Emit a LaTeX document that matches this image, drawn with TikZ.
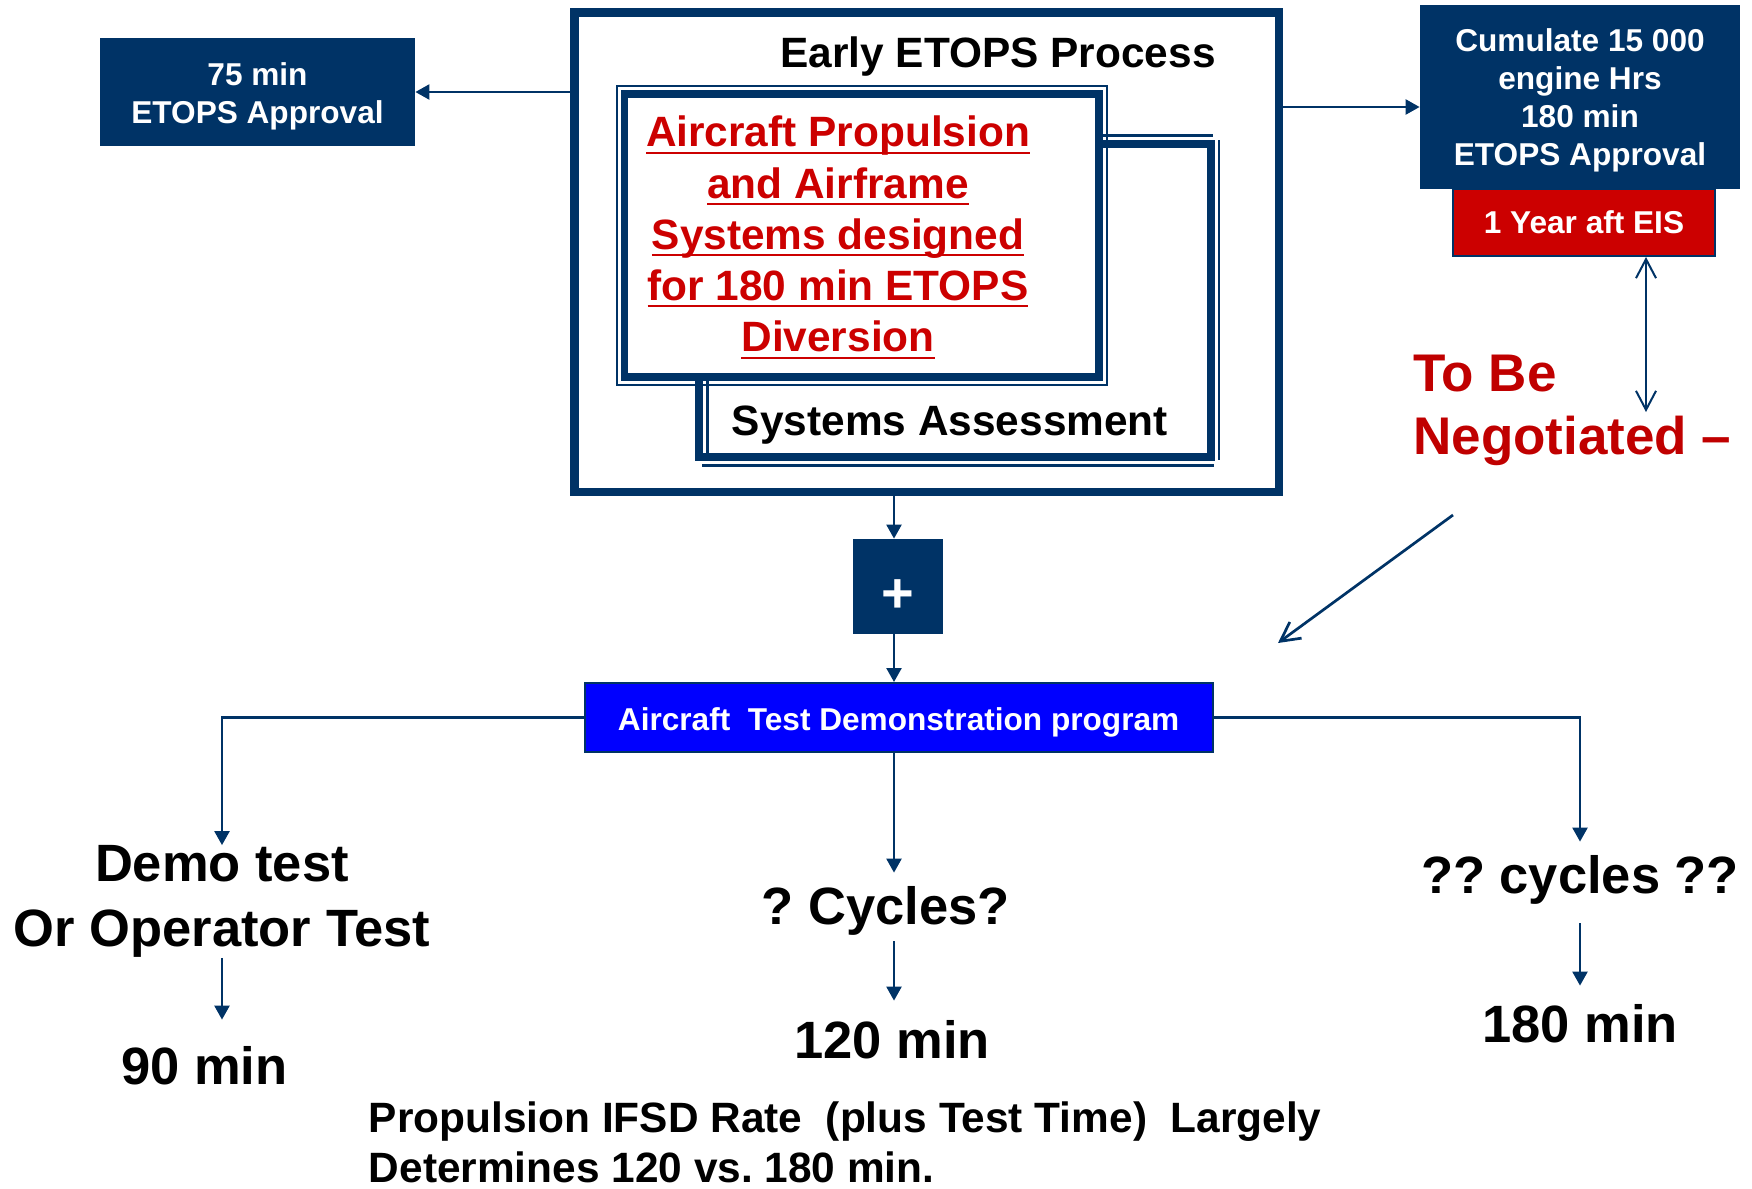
\documentclass[tikz,border=0pt]{standalone}
\usepackage{fontspec}
\setmainfont{Liberation Sans}
\usetikzlibrary{arrows.meta,calc}
\frenchspacing

\definecolor{navy}{RGB}{0,51,102}
\definecolor{alarm}{RGB}{204,0,0}
\definecolor{negred}{RGB}{192,0,0}
\definecolor{progblue}{RGB}{0,0,255}

% underline drawn just below the baseline, crossing the descenders
\newcommand\UnderRed[1]{\setbox0\hbox{#1}\rlap{\rule[-3.5pt]{\wd0}{1pt}}\box0}

\tikzset{
  fS/.style={font=\fontsize{15.8}{19}\selectfont\bfseries},
  fM/.style={font=\fontsize{21.2}{25.6}\selectfont\bfseries},
  fL/.style={font=\fontsize{26.25}{32.5}\selectfont\bfseries},
  fN/.style={font=\fontsize{26.5}{31.5}\selectfont\bfseries},
  fB/.style={font=\fontsize{21.2}{25}\selectfont\bfseries},
  navybox/.style={draw=none, fill=navy, inner sep=0pt},
  lbl/.style={text=white, inner sep=0pt, align=center},
  frame/.style={draw=navy, inner sep=0pt},
  thinrule/.style={draw=navy, line width=1.1pt},
  flow/.style={draw=navy, line width=1.2pt, -{Triangle[length=7pt,width=7.5pt]}},
  barb/.style={draw=navy, line width=1pt,
    {Straight Barb[length=9.5pt,width=10pt]}-{Straight Barb[length=9.5pt,width=10pt]}},
  slant/.style={draw=navy, line width=1.35pt, -{Straight Barb[length=9.5pt,width=10pt]}},
  plain/.style={inner sep=0pt},
}

\begin{document}
\begin{tikzpicture}[x=0.5pt, y=-0.5pt]
\useasboundingbox (0,0) rectangle (1752,1189);

% ---------- Early ETOPS process frame ----------
\node[frame, line width=4.25pt, minimum width=352.25pt, minimum height=239.75pt] (outer) at (926.5,252) {};
\node[fM, plain, anchor=base] (ttl) at (998,67) {Early ETOPS Process};

% systems assessment frame (thick line with offset thin rules)
\node[frame, line width=4pt, minimum width=256pt, minimum height=156.75pt] (sys) at (955,300.25) {};
\draw[thinrule] (1100,135.5) -- (1213,135.5);
\draw[thinrule] (1219,140) -- (1219,460);
\draw[thinrule] (702,465.5) -- (1214,465.5);
\draw[thinrule] (707.5,370) -- (707.5,453);
\node[fM, plain, anchor=base] (sysl) at (950,435) {Systems Assessment};

% design frame on top
\node[frame, fill=white, line width=3.8pt, minimum width=237.25pt, minimum height=141.5pt] (air) at (861.75,235.5) {};
\draw[thinrule] ([shift={(-4,-4)}]air.north west) rectangle ([shift={(4,4)}]air.south east);
\node[fM, plain, text=alarm, align=center] (airt) at (838,237.4)
  {\UnderRed{Aircraft Propulsion}\\\UnderRed{and Airframe}\\\UnderRed{Systems designed}\\\UnderRed{for 180 min ETOPS}\\\UnderRed{Diversion}};

% ---------- approvals ----------
\node[navybox, minimum width=157.5pt, minimum height=54pt] (m75) at (257.5,92) {};
\node[fS, lbl] (m75t) at (257.5,96) {75 min\\ETOPS Approval};

\node[navybox, minimum width=160pt, minimum height=92pt] (cum) at (1580,97) {};
\node[fS, lbl] (cumt) at (1580,100.4) {Cumulate 15 000\\engine Hrs\\180 min\\ETOPS Approval};

\node[fS, fill=alarm, draw=navy, line width=1pt, text=white, inner sep=0pt,
      minimum width=131pt, minimum height=33.5pt] (eis) at (1584,222.5) {1 Year aft EIS};

\draw[flow] (outer.west |- m75.center) -- (m75.east);
\coordinate (cumin) at ([yshift=-5pt]cum.west);
\draw[flow] (outer.east |- cumin) -- (cumin);

% ---------- negotiation ----------
\coordinate (negtop) at (1646,412);
\draw[barb] (eis.south -| negtop) -- (negtop);
\node[fN, plain, text=negred, align=left, anchor=west] (neg) at (1413,410) {To Be\\Negotiated –};
\coordinate (diagA) at (1453,515);
\coordinate (diagB) at (1278,643);
\draw[slant] (diagA) -- (diagB);

% ---------- test programme ----------
\coordinate (spine) at (894,0);
\node[navybox, minimum width=45pt, minimum height=47.5pt] (plus) at (898,586.5) {};
\node[plain, font=\fontsize{28}{28}\selectfont\bfseries, text=white, anchor=base] (plust) at (898,612) {+};
\draw[flow] (spine |- outer.south) -- (spine |- plus.north);

\node[fill=progblue, draw=navy, line width=1pt, inner sep=0pt,
      minimum width=314.25pt, minimum height=34.5pt] (prog) at (898.75,717.5) {};
\node[fS, plain, text=white, anchor=base] (progt) at (898.6,730) {Aircraft\ \ Test Demonstration program};
\draw[flow] (spine |- plus.south) -- (spine |- prog.north);

% left branch
\node[fL, plain, align=center] (demo) at (222,901.5) {Demo test\\Or Operator Test};
\node[fL, plain, anchor=base, text height=32pt, text depth=0pt] (m90) at (204.5,1084) {90 min};
\draw[flow] (prog.west) -| (demo.north);
\draw[flow] (demo.south) -- (demo.south |- m90.north);

% middle branch
\node[fL, plain, anchor=base, text height=25.5pt, text depth=8.5pt] (cyc1) at (886,924) {? Cycles?};
\node[fL, plain, anchor=base, text height=28.5pt, text depth=0pt] (m120) at (892,1058) {120 min};
\draw[flow] (spine |- prog.south) -- (spine |- cyc1.north);
\draw[flow] (spine |- cyc1.south) -- (spine |- m120.north);

% right branch
\node[fL, plain, anchor=base, text height=25.5pt, text depth=15pt] (cyc2) at (1580,893) {?? cycles ??};
\node[fL, plain, anchor=base, text height=28pt, text depth=0pt] (m180) at (1580,1042) {180 min};
\draw[flow] (prog.east) -| (cyc2.north);
\draw[flow] (cyc2.south) -- (cyc2.south |- m180.north);

% ---------- note ----------
\node[fB, plain, align=left, anchor=west] (note) at (368.5,1142)
  {Propulsion IFSD Rate\ \ (plus Test Time)\ \ Largely\\Determines 120 vs. 180 min.};
\end{tikzpicture}
\end{document}
